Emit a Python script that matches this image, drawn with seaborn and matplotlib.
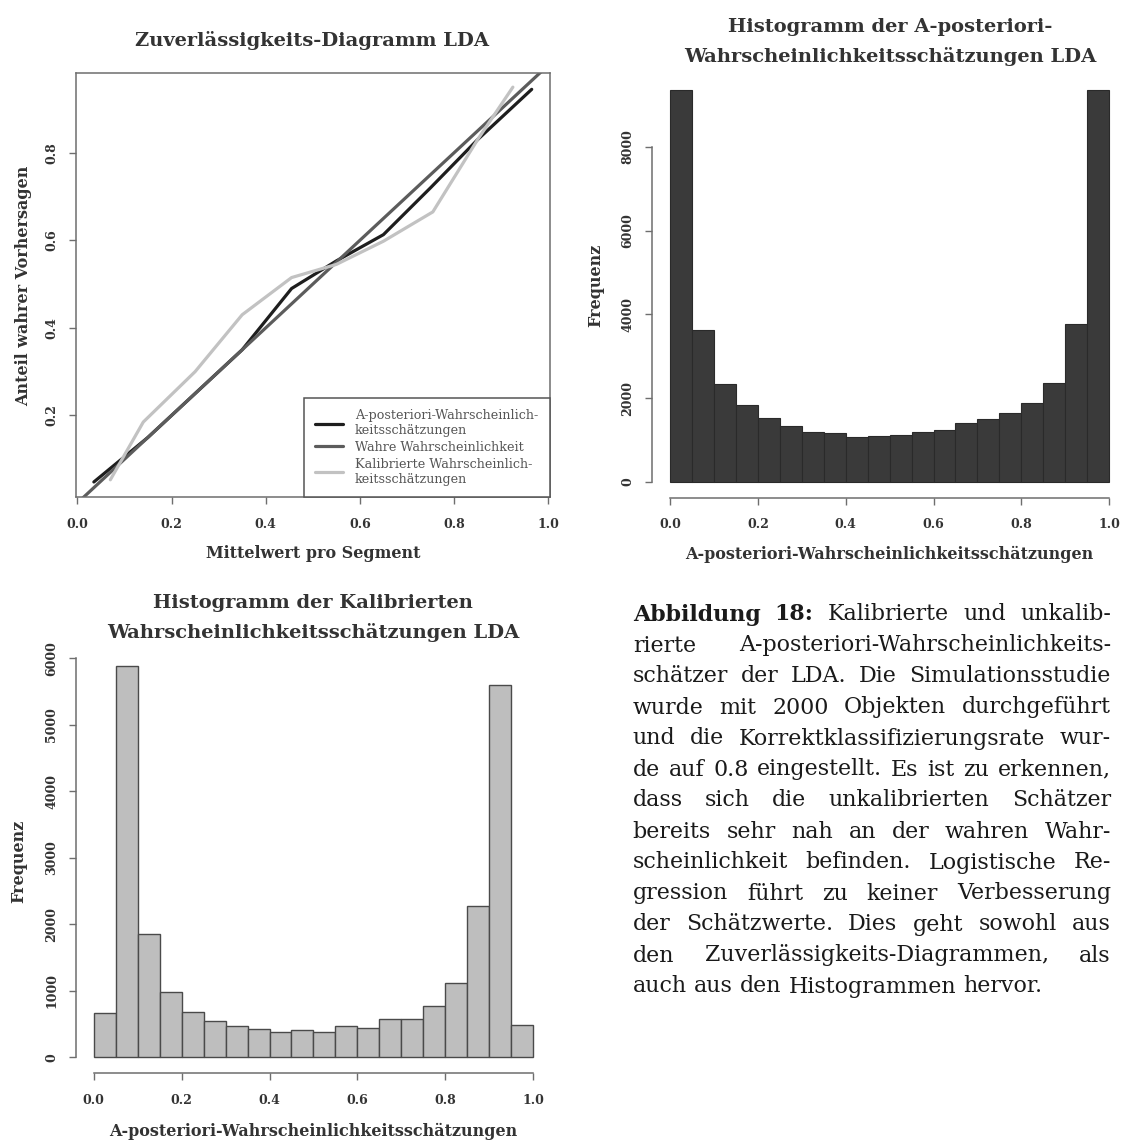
import matplotlib
matplotlib.use("Agg")
import matplotlib.pyplot as plt
import seaborn as sns
import numpy as np

sns.set_theme(style="white")
plt.rcParams['font.family'] = ['DejaVu Serif']

# --- Zuverlaessigkeits-Diagramm (Segment-Mittelwerte) ---
x_aposteriori = [0.035, 0.15, 0.25, 0.35, 0.455, 0.55, 0.65, 0.75, 0.85, 0.965]
y_aposteriori = [0.048, 0.15, 0.25, 0.35, 0.49, 0.553, 0.613, 0.72, 0.83, 0.945]
x_kalibriert = [0.07, 0.14, 0.25, 0.35, 0.455, 0.55, 0.65, 0.755, 0.85, 0.925]
y_kalibriert = [0.053, 0.185, 0.30, 0.43, 0.515, 0.545, 0.598, 0.665, 0.83, 0.95]
x_wahr = [0.0, 1.0]
y_wahr = [0.0, 1.0]

# --- Histogramme (Klassenbreite 0.05) ---
kanten = [0.0, 0.05, 0.1, 0.15, 0.2, 0.25, 0.3, 0.35, 0.4, 0.45, 0.5,
          0.55, 0.6, 0.65, 0.7, 0.75, 0.8, 0.85, 0.9, 0.95, 1.0]
haeufigkeit_aposteriori = [9350, 3630, 2335, 1830, 1520, 1340, 1190, 1170, 1075, 1095,
                           1130, 1200, 1235, 1405, 1495, 1650, 1890, 2370, 3775, 9350]
haeufigkeit_kalibriert = [660, 5890, 1855, 980, 680, 540, 465, 430, 385, 410,
                          385, 465, 435, 575, 575, 775, 1120, 2270, 5595, 485]
mitten = [(a + b) / 2 for a, b in zip(kanten[:-1], kanten[1:])]

W = H = 1142
fig = plt.figure(figsize=(W / 100, H / 100), dpi=100, facecolor='white')


def box(l, t, r, b):
    return [l / W, 1 - b / H, (r - l) / W, (b - t) / H]


def ftext(x, y, s, **kw):
    fig.text(x / W, 1 - y / H, s, ha='center', va='center', **kw)


achse = '#6e6e6e'
tick_kw = dict(direction='out', length=5, width=1.0, color=achse,
               labelsize=9, labelcolor='#333333')

# ---------------- Plot 1 ----------------
ax1 = fig.add_axes(box(76.3, 72.7, 549.6, 497.3))
sns.lineplot(x=x_aposteriori, y=y_aposteriori, ax=ax1, color='#1e1e1e', lw=2.3,
             sort=False, estimator=None, label='A-posteriori-Wahrscheinlich-\nkeitsschätzungen')
sns.lineplot(x=x_wahr, y=y_wahr, ax=ax1, color='#5c5c5c', lw=2.3,
             sort=False, estimator=None, label='Wahre Wahrscheinlichkeit')
sns.lineplot(x=x_kalibriert, y=y_kalibriert, ax=ax1, color='#c2c2c2', lw=2.3,
             sort=False, estimator=None, label='Kalibrierte Wahrscheinlich-\nkeitsschätzungen')
ax1.set_xlim(-0.0023, 1.003)
ax1.set_ylim(0.013, 0.983)
ax1.set_xticks([0.0, 0.2, 0.4, 0.6, 0.8, 1.0])
ax1.set_yticks([0.2, 0.4, 0.6, 0.8])
for sp in ax1.spines.values():
    sp.set_color(achse)
    sp.set_linewidth(1.1)
ax1.tick_params(axis='x', bottom=True, pad=10, **tick_kw)
ax1.tick_params(axis='y', left=True, pad=8, **tick_kw)
ax1.set_xlabel('')
ax1.set_ylabel('')
for lab in ax1.get_xticklabels() + ax1.get_yticklabels():
    lab.set_fontweight('bold')
plt.setp(ax1.get_yticklabels(), rotation=90, va='center')
leg = ax1.legend(loc='lower right', borderaxespad=0, fancybox=False, frameon=True,
                 edgecolor='#555555', framealpha=1, fontsize=9.2, handlelength=2.2,
                 handletextpad=0.9, borderpad=0.9, labelspacing=0.3)
leg.get_frame().set_linewidth(1.1)
for t in leg.get_texts():
    t.set_color('#555555')

ftext(312, 40, 'Zuverlässigkeits-Diagramm LDA', fontsize=14, fontweight='bold', color='#333333')
ftext(313.5, 554, 'Mittelwert pro Segment', fontsize=11.5, fontweight='bold', color='#333333')
ftext(23.6, 286, 'Anteil wahrer Vorhersagen', fontsize=11.5, fontweight='bold',
      color='#333333', rotation=90)


def hist_achsen(ax, ymax, yticks):
    ax.set_xlim(-0.04, 1.04)
    ax.set_ylim(-0.04 * ymax, 1.04 * ymax)
    ax.set_xticks([0.0, 0.2, 0.4, 0.6, 0.8, 1.0])
    ax.set_yticks(yticks)
    ax.spines['top'].set_visible(False)
    ax.spines['right'].set_visible(False)
    ax.spines['left'].set_bounds(yticks[0], yticks[-1])
    ax.spines['bottom'].set_bounds(0, 1)
    for s in ('left', 'bottom'):
        ax.spines[s].set_color(achse)
        ax.spines[s].set_linewidth(1.1)
    ax.tick_params(axis='x', bottom=True, pad=10, **tick_kw)
    ax.tick_params(axis='y', left=True, pad=8, **tick_kw)
    ax.set_xlabel('')
    ax.set_ylabel('')
    ax.set_xticklabels(['0.0', '0.2', '0.4', '0.6', '0.8', '1.0'])
    ax.set_yticklabels([str(v) for v in yticks])
    for lab in ax.get_xticklabels() + ax.get_yticklabels():
        lab.set_fontweight('bold')
    plt.setp(ax.get_yticklabels(), rotation=90, va='center')


# ---------------- Plot 2 ----------------
ax2 = fig.add_axes(box(652.4, 74.5, 1126.8, 497.6))
sns.histplot(x=mitten, weights=haeufigkeit_aposteriori, bins=kanten, ax=ax2,
             color='#3a3a3a', edgecolor='#2a2a2a', linewidth=0.8, alpha=1)
hist_achsen(ax2, max(haeufigkeit_aposteriori), [0, 2000, 4000, 6000, 8000])
ftext(889.8, 27.3, 'Histogramm der A-posteriori-', fontsize=14, fontweight='bold', color='#333333')
ftext(889.8, 56.3, 'Wahrscheinlichkeitsschätzungen LDA', fontsize=14, fontweight='bold', color='#333333')
ftext(889, 554.4, 'A-posteriori-Wahrscheinlichkeitsschätzungen', fontsize=11.5,
      fontweight='bold', color='#333333')
ftext(595.5, 285.4, 'Frequenz', fontsize=11.5, fontweight='bold', color='#333333', rotation=90)

# ---------------- Plot 3 ----------------
ax3 = fig.add_axes(box(76.2, 650.0, 550.7, 1072.8))
sns.histplot(x=mitten, weights=haeufigkeit_kalibriert, bins=kanten, ax=ax3,
             color='#bebebe', edgecolor='#4a4a4a', linewidth=1.0, alpha=1)
hist_achsen(ax3, max(haeufigkeit_kalibriert), [0, 1000, 2000, 3000, 4000, 5000, 6000])
ftext(312.9, 602.8, 'Histogramm der Kalibrierten', fontsize=14, fontweight='bold', color='#333333')
ftext(312.9, 632, 'Wahrscheinlichkeitsschätzungen LDA', fontsize=14, fontweight='bold', color='#333333')
ftext(312.9, 1131.8, 'A-posteriori-Wahrscheinlichkeitsschätzungen', fontsize=11.5,
      fontweight='bold', color='#333333')
ftext(18.4, 861, 'Frequenz', fontsize=11.5, fontweight='bold', color='#333333', rotation=90)

# ---------------- Bildunterschrift (Blocksatz) ----------------
zeilen = [
    [('Abbildung', 'bold'), ('18:', 'bold'), ('Kalibrierte', 'normal'), ('und', 'normal'), ('unkalib-', 'normal')],
    'rierte A-posteriori-Wahrscheinlichkeits-',
    'schätzer der LDA. Die Simulationsstudie',
    'wurde mit 2000 Objekten durchgeführt',
    'und die Korrektklassifizierungsrate wur-',
    'de auf 0.8 eingestellt. Es ist zu erkennen,',
    'dass sich die unkalibrierten Schätzer',
    'bereits sehr nah an der wahren Wahr-',
    'scheinlichkeit befinden. Logistische Re-',
    'gression führt zu keiner Verbesserung',
    'der Schätzwerte. Dies geht sowohl aus',
    'den Zuverlässigkeits-Diagrammen, als',
    'auch aus den Histogrammen hervor.',
]
zeilen = [z if isinstance(z, list) else [(w, 'normal') for w in z.split(' ')] for z in zeilen]

renderer = fig.canvas.get_renderer()


def breite(s, weight, fs):
    t = fig.text(0, 0, s, fontsize=fs, fontweight=weight, family='DejaVu Serif')
    w = t.get_window_extent(renderer).width
    t.remove()
    return w


links, rechts = 632.8, 1110.9
fs0 = 16.0
sp0 = breite('a a', 'normal', fs0) - breite('aa', 'normal', fs0)
nat = [sum(breite(w, g, fs0) for w, g in z) + sp0 * (len(z) - 1) for z in zeilen]
fs = min(fs0 * 410 / nat[-1], fs0 * (rechts - links) / max(nat[:-1]) * 0.995)

space = breite('a a', 'normal', fs) - breite('aa', 'normal', fs)
for i, z in enumerate(zeilen):
    ws = [breite(w, g, fs) for w, g in z]
    if i < len(zeilen) - 1 and len(z) > 1:
        gap = (rechts - links - sum(ws)) / (len(z) - 1)
    else:
        gap = space
    x = links
    yb = 620.5 + i * 31.0
    for (w, g), b in zip(z, ws):
        fig.text(x / W, 1 - yb / H, w, fontsize=fs, fontweight=g, family='DejaVu Serif',
                 color='#1a1a1a', ha='left', va='baseline')
        x += b + gap

fig.savefig('out.png', dpi=100, facecolor='white')
